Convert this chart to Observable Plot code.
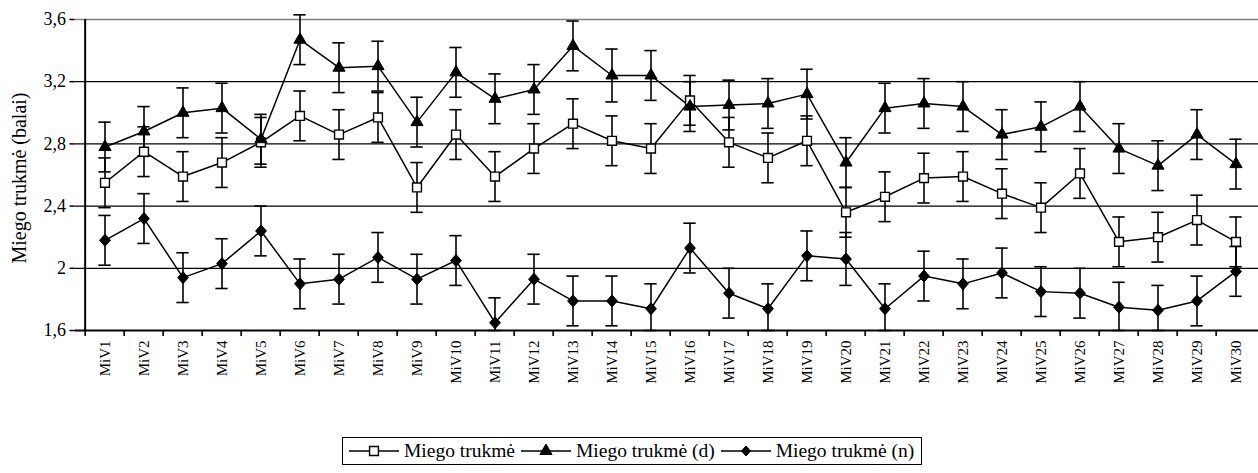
<!DOCTYPE html>
<html>
<head>
<meta charset="utf-8">
<script src="https://cdn.jsdelivr.net/npm/d3@7"></script>
<script src="https://cdn.jsdelivr.net/npm/@observablehq/plot@0.6"></script>
<style>
  html, body { margin: 0; padding: 0; background: #fff; }
  #wrap { position: relative; width: 1258px; height: 473px; overflow: hidden; font-family: "Liberation Serif", "Times New Roman", serif; }
  #legend { position: absolute; left: 342px; top: 437px; width: 580px; height: 28px; border: 1px solid #000; box-sizing: border-box;
            display: flex; align-items: center; font-size: 19.5px; color: #000; padding-left: 4px; white-space: nowrap; }
  #legend .item { display: flex; align-items: center; margin-right: 4px; }
  #legend svg { display: block; margin-right: 3px; }
</style>
</head>
<body>
<div id="wrap"><div id="chart"></div><div id="legend"></div></div>
<script>
const categories = ["MiV1","MiV2","MiV3","MiV4","MiV5","MiV6","MiV7","MiV8","MiV9","MiV10",
  "MiV11","MiV12","MiV13","MiV14","MiV15","MiV16","MiV17","MiV18","MiV19","MiV20",
  "MiV21","MiV22","MiV23","MiV24","MiV25","MiV26","MiV27","MiV28","MiV29","MiV30"];

const seriesNames = ["Miego trukmė", "Miego trukmė (d)", "Miego trukmė (n)"];

const valuesAll = [2.55, 2.75, 2.59, 2.68, 2.81, 2.98, 2.86, 2.97, 2.52, 2.86,
  2.59, 2.77, 2.93, 2.82, 2.77, 3.08, 2.81, 2.71, 2.82, 2.36,
  2.46, 2.58, 2.59, 2.48, 2.39, 2.61, 2.17, 2.20, 2.31, 2.17];
const valuesD = [2.78, 2.88, 3.00, 3.03, 2.83, 3.47, 3.29, 3.30, 2.94, 3.26,
  3.09, 3.15, 3.43, 3.24, 3.24, 3.04, 3.05, 3.06, 3.12, 2.68,
  3.03, 3.06, 3.04, 2.86, 2.91, 3.04, 2.77, 2.66, 2.86, 2.67];
const valuesN = [2.18, 2.32, 1.94, 2.03, 2.24, 1.90, 1.93, 2.07, 1.93, 2.05,
  1.65, 1.93, 1.79, 1.79, 1.74, 2.13, 1.84, 1.74, 2.08, 2.06,
  1.74, 1.95, 1.90, 1.97, 1.85, 1.84, 1.75, 1.73, 1.79, 1.98];

const errAll = [0.16, 0.16, 0.16, 0.16, 0.16, 0.16, 0.16, 0.16, 0.16, 0.16,
  0.16, 0.16, 0.16, 0.16, 0.16, 0.16, 0.16, 0.16, 0.16, 0.16,
  0.16, 0.16, 0.16, 0.16, 0.16, 0.16, 0.16, 0.16, 0.16, 0.16];
const errD = [0.16, 0.16, 0.16, 0.16, 0.16, 0.16, 0.16, 0.16, 0.16, 0.16,
  0.16, 0.16, 0.16, 0.17, 0.16, 0.16, 0.16, 0.16, 0.16, 0.16,
  0.16, 0.16, 0.16, 0.16, 0.16, 0.16, 0.16, 0.16, 0.16, 0.16];
const errN = [0.16, 0.16, 0.16, 0.16, 0.16, 0.16, 0.16, 0.16, 0.16, 0.16,
  0.16, 0.16, 0.16, 0.16, 0.16, 0.16, 0.16, 0.16, 0.16, 0.17,
  0.16, 0.16, 0.16, 0.16, 0.16, 0.16, 0.16, 0.16, 0.16, 0.16];

const yTicks = [1.6, 2, 2.4, 2.8, 3.2, 3.6];
const yTickLabels = ["1,6", "2", "2,4", "2,8", "3,2", "3,6"];
const yTitle = "Miego trukmė (balai)";

const YMIN = 1.6;
function rows(vals, errs) {
  return categories.map((c, i) => ({cat: c, v: vals[i], lo: Math.max(YMIN, vals[i] - errs[i]), hi: vals[i] + errs[i]}));
}
const rA = rows(valuesAll, errAll), rD = rows(valuesD, errD), rN = rows(valuesN, errN);

const diamond = {
  draw(context, size) {
    const r = Math.sqrt(size / Math.PI);
    const h = r, w = r * 0.9;
    context.moveTo(0, -h); context.lineTo(w, 0); context.lineTo(0, h); context.lineTo(-w, 0); context.closePath();
  }
};

const x0 = 74.5, x1 = 1265.5;
const bw = (x1 - x0) / categories.length;
const capInset = (bw - 13) / 2;

function errMarks(r) {
  return [
    Plot.ruleX(r, {x: "cat", y1: "lo", y2: "hi", stroke: "#000", strokeWidth: 1.6}),
    Plot.tickY(r, {x: "cat", y: "lo", insetLeft: capInset, insetRight: capInset, stroke: "#000", strokeWidth: 1.6}),
    Plot.tickY(r, {x: "cat", y: "hi", insetLeft: capInset, insetRight: capInset, stroke: "#000", strokeWidth: 1.6})
  ];
}

const chart = Plot.plot({
  width: 1258,
  height: 430,
  marginLeft: x0, marginRight: 0, marginTop: 19, marginBottom: 100,
  style: {fontFamily: "'Liberation Serif', 'Times New Roman', serif", background: "white", color: "#000"},
  x: {type: "band", domain: categories, range: [x0, x1], padding: 0},
  y: {domain: [1.6, 3.6], range: [330, 19]},
  marks: [
    Plot.ruleY(yTicks.filter(d => d > 1.6 && d < 3.6), {y: d => d, stroke: "#000", strokeWidth: 1.3}),
    Plot.ruleY([3.6], {y: d => d, stroke: "#808080", strokeWidth: 1.7}),
    Plot.ruleY([1.6], {y: d => d, stroke: "#000", strokeWidth: 2}),
    Plot.ruleX([categories[0]], {x: d => d, y1: 1.6, y2: 3.6, dx: -bw / 2, stroke: "#000", strokeWidth: 2}),
    Plot.axisY(yTicks, {tickFormat: d => yTickLabels[yTicks.indexOf(d)], tickSize: 5, tickPadding: 4, fontSize: 18, label: null, strokeWidth: 1.5}),
    Plot.axisX({tickSize: 6, tickFormat: () => "", dx: -bw / 2, label: null, strokeWidth: 1.6}),
    Plot.axisX({tickSize: 0, tickPadding: 10, tickRotate: -90, fontSize: 15, label: null}),
    Plot.text([yTitle], {text: d => d, frameAnchor: "left", textAnchor: "middle", dx: -55, dy: 3, rotate: -90, fontSize: 20, fill: "#000"}),
    ...errMarks(rA), ...errMarks(rD), ...errMarks(rN),
    Plot.line(rA, {x: "cat", y: "v", stroke: "#000", strokeWidth: 1.5}),
    Plot.line(rD, {x: "cat", y: "v", stroke: "#000", strokeWidth: 1.5}),
    Plot.line(rN, {x: "cat", y: "v", stroke: "#000", strokeWidth: 1.5}),
    Plot.dot(rA, {x: "cat", y: "v", symbol: "square", r: 5, fill: "#fff", stroke: "#000", strokeWidth: 1.4}),
    Plot.dot(rD, {x: "cat", y: "v", symbol: "triangle", r: 4.5, fill: "#000", stroke: "#000", strokeWidth: 1}),
    Plot.dot(rN, {x: "cat", y: "v", symbol: diamond, r: 6, fill: "#000", stroke: "#000", strokeWidth: 1})
  ]
});
document.getElementById("chart").appendChild(chart);

// Legend
const legend = document.getElementById("legend");
const legendSymbols = ["square", "triangle", "diamond"];
seriesNames.forEach((name, i) => {
  const item = document.createElement("div");
  item.className = "item";
  const ns = "http://www.w3.org/2000/svg";
  const svg = document.createElementNS(ns, "svg");
  svg.setAttribute("width", 54); svg.setAttribute("height", 20);
  const line = document.createElementNS(ns, "line");
  line.setAttribute("x1", 2); line.setAttribute("x2", 52); line.setAttribute("y1", 10); line.setAttribute("y2", 10);
  line.setAttribute("stroke", "#000"); line.setAttribute("stroke-width", 1.5);
  svg.appendChild(line);
  const p = document.createElementNS(ns, "path");
  let d;
  if (legendSymbols[i] === "square") d = d3.symbol(d3.symbolSquare, 5 * 5 * Math.PI)();
  else if (legendSymbols[i] === "triangle") d = d3.symbol(d3.symbolTriangle, 4.5 * 4.5 * Math.PI)();
  else d = d3.symbol(diamond, 5 * 5 * Math.PI)();
  p.setAttribute("d", d);
  p.setAttribute("transform", "translate(27,10)");
  p.setAttribute("fill", i === 0 ? "#fff" : "#000");
  p.setAttribute("stroke", "#000"); p.setAttribute("stroke-width", i === 0 ? 1.4 : 1);
  svg.appendChild(p);
  item.appendChild(svg);
  const t = document.createElement("span");
  t.textContent = name;
  item.appendChild(t);
  legend.appendChild(item);
});
</script>
</body>
</html>
